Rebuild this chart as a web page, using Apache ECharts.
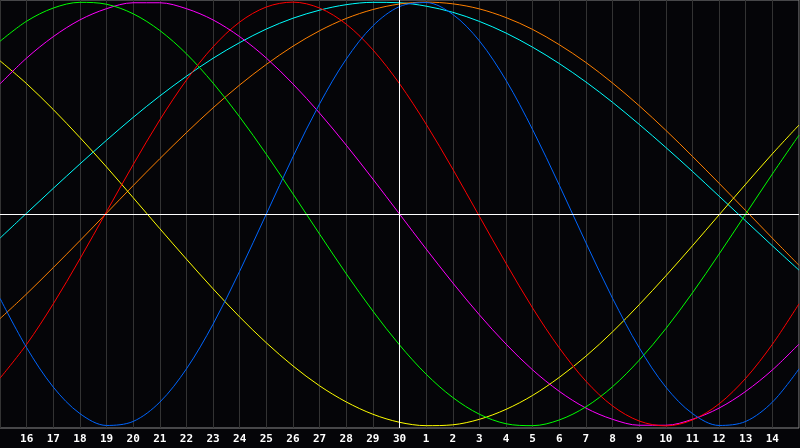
<!DOCTYPE html>
<html>
<head>
<meta charset="utf-8">
<script src="https://cdn.jsdelivr.net/npm/echarts@6/dist/echarts.min.js"></script>
<style>
  html, body { margin: 0; padding: 0; background: #050508; }
  #chart { width: 800px; height: 448px; }
</style>
</head>
<body>
<div id="chart"></div>
<script>
// Tick labels: day of month at each day line (index 0..30)
const dayLabels = ['15','16','17','18','19','20','21','22','23','24','25','26','27','28','29','30',
                   '1','2','3','4','5','6','7','8','9','10','11','12','13','14','15'];

// Values at each day line (index 0..30), range -1..1
const blueValues = [-0.398,-0.631,-0.817,-0.942,-0.998,-0.979,-0.888,-0.731,-0.520,-0.270,0.000,
  0.270,0.520,0.731,0.888,0.979,0.998,0.942,0.817,0.631,0.398,0.136,-0.136,-0.398,-0.631,-0.817,
  -0.942,-0.998,-0.979,-0.888,-0.731];
const redValues = [-0.775,-0.615,-0.424,-0.212,0.011,0.233,0.444,0.632,0.789,0.906,0.977,
  1.000,0.972,0.896,0.775,0.615,0.424,0.212,-0.011,-0.233,-0.444,-0.632,-0.789,-0.906,-0.977,
  -1.000,-0.972,-0.896,-0.775,-0.615,-0.424];
const greenValues = [0.815,0.910,0.972,0.999,0.990,0.945,0.866,0.756,0.618,0.458,0.282,
  0.095,-0.095,-0.282,-0.458,-0.618,-0.756,-0.866,-0.945,-0.990,-0.999,-0.972,-0.910,-0.815,
  -0.690,-0.541,-0.372,-0.189,0.000,0.189,0.372];
const magentaValues = [0.614,0.736,0.837,0.916,0.969,0.997,0.997,0.969,0.916,0.837,0.736,
  0.614,0.476,0.325,0.165,0.000,-0.165,-0.325,-0.476,-0.614,-0.736,-0.837,-0.916,-0.969,
  -0.997,-0.997,-0.969,-0.916,-0.837,-0.736,-0.614];
const yellowValues = [0.723,0.615,0.493,0.361,0.222,0.077,-0.069,-0.213,-0.353,-0.486,-0.608,
  -0.717,-0.811,-0.887,-0.945,-0.983,-0.999,-0.995,-0.969,-0.922,-0.856,-0.771,-0.671,-0.556,
  -0.428,-0.292,-0.150,-0.004,0.141,0.284,0.420];
const orangeValues = [-0.494,-0.377,-0.253,-0.126,0.004,0.134,0.261,0.384,0.501,0.609,0.706,
  0.792,0.865,0.923,0.965,0.991,1.000,0.992,0.968,0.927,0.871,0.799,0.715,0.618,0.511,0.395,
  0.272,0.145,0.016,-0.114,-0.242];
const cyanValues = [-0.114,0.004,0.121,0.236,0.348,0.456,0.557,0.650,0.735,0.809,0.873,
  0.924,0.962,0.988,0.999,0.997,0.981,0.952,0.909,0.854,0.787,0.710,0.623,0.527,0.423,0.314,
  0.201,0.084,-0.033,-0.150,-0.265];

const seriesDefs = [
  { name: 'cyan', values: cyanValues, color: '#00ffff' },
  { name: 'orange', values: orangeValues, color: '#ff8000' },
  { name: 'yellow', values: yellowValues, color: '#ffff00' },
  { name: 'magenta', values: magentaValues, color: '#ff00ff' },
  { name: 'green', values: greenValues, color: '#00ff00' },
  { name: 'red', values: redValues, color: '#ff0000' },
  { name: 'blue', values: blueValues, color: '#0066ff' }
];

const chart = echarts.init(document.getElementById('chart'), null, { renderer: 'canvas' });

const series = seriesDefs.map((d) => ({
  name: d.name,
  type: 'line',
  data: d.values.map((v, k) => [k, v]),
  smooth: 0.33,
  symbol: 'none',
  silent: true,
  lineStyle: { color: d.color, width: 1 },
  z: 3
}));

series.unshift({
  type: 'line',
  data: [],
  silent: true,
  z: 2,
  markLine: {
    silent: true,
    symbol: ['none', 'none'],
    label: { show: false },
    lineStyle: { color: '#ffffff', width: 1, type: 'solid' },
    data: [{ xAxis: 15 }, { yAxis: 0 }]
  }
});

chart.setOption({
  animation: false,
  backgroundColor: '#050508',
  grid: {
    left: 0, right: 1, top: 0, bottom: 20,
    show: true,
    backgroundColor: '#050508',
    borderColor: '#8a8a8a',
    borderWidth: 1
  },
  xAxis: {
    type: 'value',
    min: 0,
    max: 30,
    interval: 1,
    axisLine: { show: false },
    axisTick: { show: false },
    splitLine: { show: true, lineStyle: { color: '#333333', width: 1 } },
    axisLabel: {
      show: true,
      showMinLabel: false,
      showMaxLabel: false,
      color: '#ffffff',
      fontFamily: 'DejaVu Sans Mono',
      fontWeight: 'bold',
      fontSize: 11,
      lineHeight: 11,
      margin: 6,
      formatter: (v) => dayLabels[Math.round(v)]
    }
  },
  yAxis: {
    type: 'value',
    min: -1.01,
    max: 1.01,
    axisLine: { show: false },
    axisTick: { show: false },
    axisLabel: { show: false },
    splitLine: { show: false }
  },
  series: series
});
</script>
</body>
</html>
